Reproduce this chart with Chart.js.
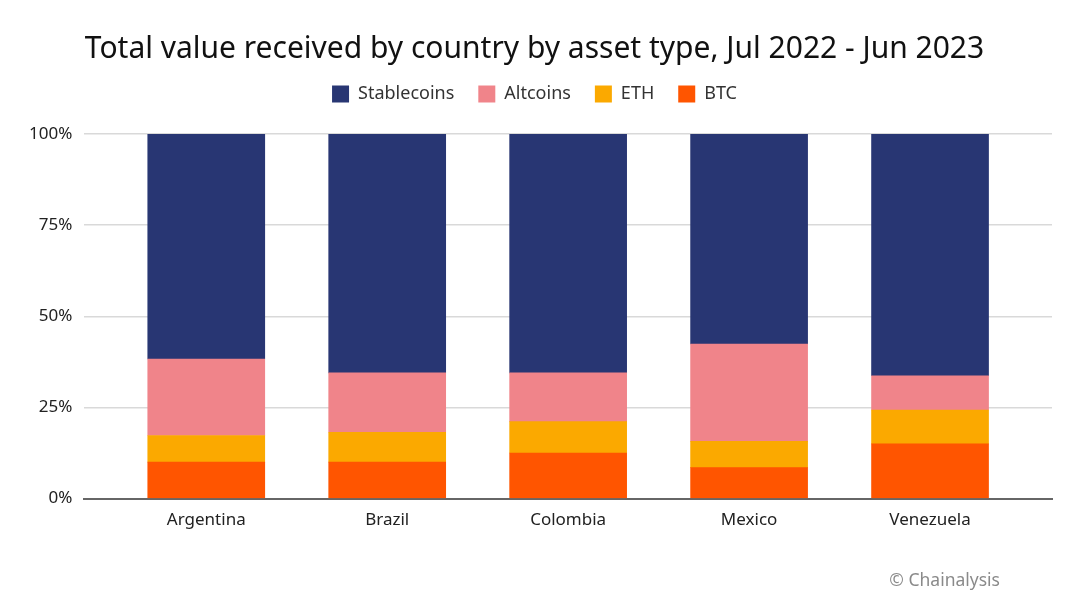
<!DOCTYPE html>
<html>
<head>
<meta charset="utf-8">
<script src="https://cdn.jsdelivr.net/npm/chart.js@4"></script>
<style>
    html, body { margin: 0; padding: 0; background: #fff; }
    #wrap { position: relative; width: 1080px; height: 606px; }
    #credit { position: absolute; right: 80px; top: 567px; font: 17.5px 'Noto Sans', sans-serif; color: #8a8a8a; }
</style>
</head>
<body>
<div id="wrap">
    <canvas id="chart" width="1080" height="606"></canvas>
    <div id="credit">© Chainalysis</div>
</div>
<script>
    'use strict';

    const countries = ['Argentina', 'Brazil', 'Colombia', 'Mexico', 'Venezuela'];
    const btcShare = [10.0, 10.0, 12.5, 8.5, 15.0];
    const ethShare = [7.3, 8.2, 8.6, 7.2, 9.3];
    const altShare = [21.0, 16.3, 13.4, 26.7, 9.4];
    const stableShare = [61.7, 65.5, 65.5, 57.6, 66.3];
    const yTicks = [0, 25, 50, 75, 100];

    const FONT = "'Noto Sans', sans-serif";

    // linear x so the grid can run wider than the outer bars
    function ds(label, values, color) {
        return {
            label,
            data: values.map((v, i) => ({ x: i, y: v })),
            backgroundColor: color,
            borderWidth: 0,
            barThickness: 117
        };
    }

    // extra room under the legend
    const legendGap = {
        id: 'legendGap',
        beforeLayout(chart) {
            const lg = chart.legend;
            if (!lg || lg._gapWrapped) return;
            const fit = lg.fit;
            lg.fit = function () {
                fit.call(this);
                this.height += 21;
            };
            lg._gapWrapped = true;
        }
    };

    new Chart(document.getElementById('chart'), {
        type: 'bar',
        data: {
            datasets: [
                ds('BTC', btcShare, '#FF5500'),
                ds('ETH', ethShare, '#FBA900'),
                ds('Altcoins', altShare, '#F0848A'),
                ds('Stablecoins', stableShare, '#283673')
            ]
        },
        options: {
            responsive: false,
            animation: false,
            layout: { padding: { left: 17, right: 28, top: 12, bottom: 73 } },
            plugins: {
                title: {
                    display: true,
                    text: 'Total value received by country by asset type, Jul 2022 - Jun 2023',
                    color: '#111',
                    font: { family: FONT, size: 30, weight: 'normal' },
                    padding: { top: 19, bottom: -6 }
                },
                legend: {
                    reverse: true,
                    labels: {
                        color: '#333',
                        font: { family: FONT, size: 18 },
                        boxWidth: 17,
                        boxHeight: 17,
                        padding: 24
                    }
                },
                tooltip: { enabled: false }
            },
            scales: {
                x: {
                    type: 'linear',
                    stacked: true,
                    offset: false,
                    min: -0.674,
                    max: 4.674,
                    afterBuildTicks: axis => { axis.ticks = countries.map((c, i) => ({ value: i })); },
                    grid: { display: false },
                    border: { color: '#666', width: 2 },
                    ticks: {
                        color: '#222',
                        font: { family: FONT, size: 17 },
                        padding: 3,
                        callback: v => countries[v]
                    }
                },
                y: {
                    stacked: true,
                    min: 0,
                    max: 100,
                    afterBuildTicks: axis => { axis.ticks = yTicks.map(v => ({ value: v })); },
                    grid: { color: '#d9d9d9', lineWidth: 1.5, drawTicks: false },
                    border: { display: false },
                    ticks: {
                        color: '#222',
                        font: { family: FONT, size: 17 },
                        padding: 12,
                        callback: v => v + '%'
                    }
                }
            }
        },
        plugins: [legendGap]
    });
</script>
</body>
</html>
